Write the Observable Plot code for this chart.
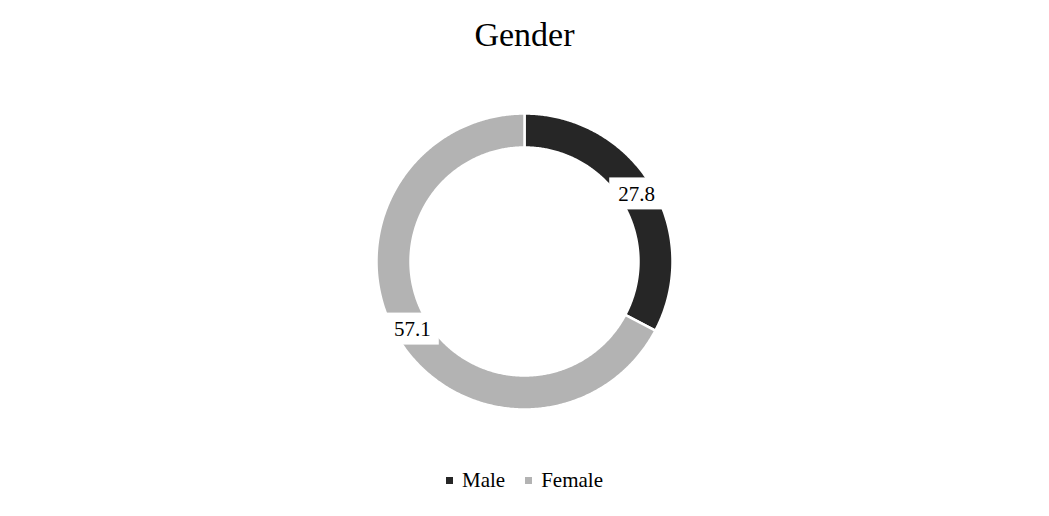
<!DOCTYPE html>
<html>
<head>
<meta charset="utf-8">
<script src="https://cdn.jsdelivr.net/npm/d3@7"></script>
<script src="https://cdn.jsdelivr.net/npm/@observablehq/plot@0.6"></script>
<style>
  html, body { margin: 0; padding: 0; background: #fff; }
  #wrap { position: relative; width: 1049px; height: 516px; overflow: hidden; font-family: "Liberation Serif", serif; }
  #title { position: absolute; top: 15px; left: 0; width: 1049px; text-align: center; font-size: 34px; line-height: 40px; color: #000; }
  #chart { position: absolute; top: 60px; left: 0; }
  #legend { position: absolute; top: 467px; left: 0; width: 1049px; display: flex; justify-content: center; align-items: center; font-size: 21px; line-height: 26px; color: #000; }
  .item { display: flex; align-items: center; margin: 0 10px; }
  .sw { width: 7px; height: 7px; margin-right: 9px; }
</style>
</head>
<body>
<div id="wrap">
  <div id="title"></div>
  <div id="chart"></div>
  <div id="legend"></div>
</div>
<script>
const titleText = "Gender";
const categories = ["Male", "Female"];
const values = [27.8, 57.1];
const colors = ["#262626", "#b3b3b3"];
const labelTexts = ["27.8", "57.1"];

const innerR = 114 / 148;
const outerR = 1;

const pie = d3.pie().sort(null).startAngle(0).endAngle(2 * Math.PI);
const arcs = pie(values);

// Polygon outline points for each slice (data units, y up)
const ringPts = [];
arcs.forEach((a, i) => {
  const n = Math.max(2, Math.ceil((a.endAngle - a.startAngle) / (Math.PI / 360)));
  for (let k = 0; k <= n; k++) {
    const t = a.startAngle + (a.endAngle - a.startAngle) * k / n;
    ringPts.push({cat: categories[i], x: outerR * Math.sin(t), y: outerR * Math.cos(t)});
  }
  for (let k = n; k >= 0; k--) {
    const t = a.startAngle + (a.endAngle - a.startAngle) * k / n;
    ringPts.push({cat: categories[i], x: innerR * Math.sin(t), y: innerR * Math.cos(t)});
  }
  const t0 = a.startAngle;
  ringPts.push({cat: categories[i], x: outerR * Math.sin(t0), y: outerR * Math.cos(t0)});
});

const midR = (innerR + outerR) / 2;
const labels = arcs.map((a, i) => {
  const m = (a.startAngle + a.endAngle) / 2;
  return {cat: categories[i], text: labelTexts[i], x: midR * Math.sin(m), y: midR * Math.cos(m)};
});

const W = 1049, H = 402, R = 148;
const cx = 524, cy = 201;

const plot = Plot.plot({
  width: W,
  height: H,
  margin: 0,
  x: {domain: [-cx / R, (W - cx) / R], axis: null},
  y: {domain: [-(H - cy) / R, cy / R], axis: null},
  color: {domain: categories, range: colors},
  style: {background: "#fff", fontFamily: "Liberation Serif, serif"},
  marks: [
    Plot.line(ringPts, {x: "x", y: "y", z: "cat", fill: "cat", stroke: "#fff", strokeWidth: 2.5, curve: "linear"}),
    Plot.rect(labels, {x1: d => d.x - 27 / R, x2: d => d.x + 27 / R, y1: d => d.y - 16 / R, y2: d => d.y + 16 / R, fill: "#fff"}),
    Plot.text(labels, {x: "x", y: "y", text: "text", fontSize: 21, fill: "#000"})
  ]
});
document.getElementById("chart").appendChild(plot);
document.getElementById("title").textContent = titleText;

const legend = document.getElementById("legend");
categories.forEach((c, i) => {
  const item = document.createElement("div");
  item.className = "item";
  const sw = document.createElement("div");
  sw.className = "sw";
  sw.style.background = colors[i];
  const lab = document.createElement("span");
  lab.textContent = c;
  item.appendChild(sw);
  item.appendChild(lab);
  legend.appendChild(item);
});
</script>
</body>
</html>
